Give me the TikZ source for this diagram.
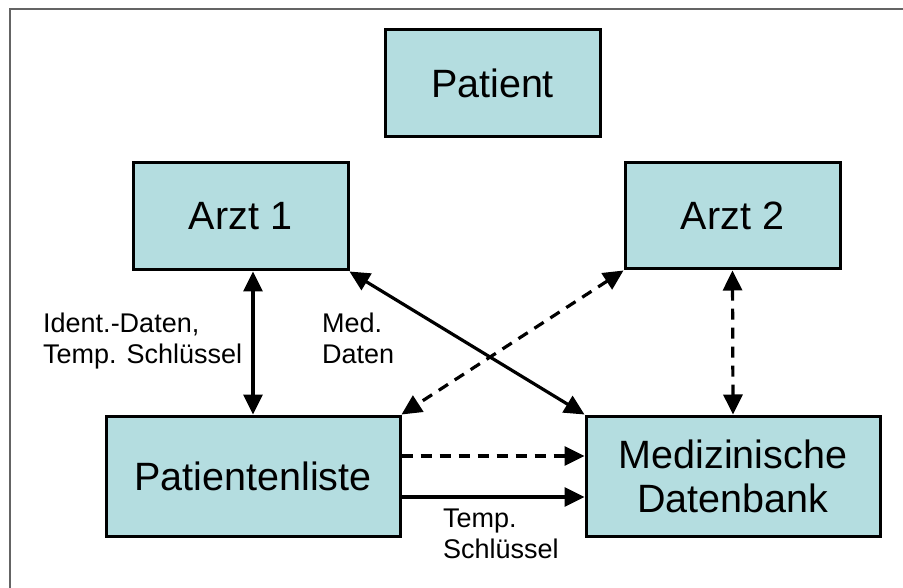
\documentclass[tikz,border=0pt]{standalone}
\usepackage{fontspec}
\setmainfont{Liberation Sans}
\usetikzlibrary{arrows.meta}
\definecolor{boxfill}{RGB}{180,221,224}
\definecolor{framegray}{RGB}{100,100,100}
\tikzset{
  box/.style={draw=black, line width=3pt, fill=boxfill, inner sep=0pt,
    align=center, font=\fontsize{39.5}{44}\selectfont},
  lbl/.style={inner sep=0pt, align=left, anchor=north west,
    font=\fontsize{27}{31}\selectfont},
  link/.style={line width=3.2pt, draw=black,
    arrows={Triangle[length=20pt,width=19pt]-Triangle[length=20pt,width=19pt]}},
  onelink/.style={line width=3.2pt, draw=black,
    -{Triangle[length=20pt,width=19pt]}},
  dsh/.style={dash pattern=on 11pt off 8pt}
}
\begin{document}
\begin{tikzpicture}[x=1pt,y=-1pt]
\useasboundingbox (0,0) rectangle (903,588);
\fill[white] (0,0) rectangle (903,588);
\draw[framegray, line width=1.6pt] (10,600) -- (10,9) -- (910,9);

\node[box, minimum width=215pt, minimum height=107pt] (pat) at (492.5,83.5) {Patient};
\node[box, minimum width=215pt, minimum height=107pt] (a1) at (240.5,216.5) {Arzt 1};
\node[box, minimum width=215pt, minimum height=106pt] (a2) at (732.5,216) {Arzt 2};
\node[box, minimum width=294pt, minimum height=120pt] (pl) at (253,476) {Patientenliste};
\node[box, minimum width=294pt, minimum height=120pt] (med) at (733,476) {Medizinische\\Datenbank};

\coordinate (yd) at (0,456);
\coordinate (ys) at (0,497);

\draw[link] (a1.south -| pl.north) -- (pl.north);
\draw[link] (a1.south east) -- (med.north west);
\draw[link, dsh] (a2.south west) -- (pl.north east);
\draw[link, dsh] (a2.south) -- (med.north);
\draw[onelink, dsh] (pl.east |- yd) -- (med.west |- yd);
\draw[onelink] (pl.east |- ys) -- (med.west |- ys);

\node[lbl] (l1) at (43,313) {Ident.-Daten,\\Temp. Schlüssel};
\node[lbl] (l2) at (322,313) {Med.\\Daten};
\node[lbl] (l3) at (443,509) {Temp.\\Schlüssel};
\end{tikzpicture}
\end{document}
